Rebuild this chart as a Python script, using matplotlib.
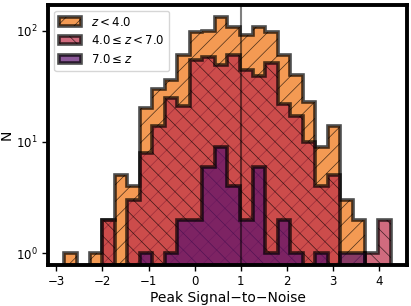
import numpy as np
import matplotlib
matplotlib.use('Agg')
import matplotlib.pyplot as plt

# histogram range / binning (peak S/N)
sn_min = -2.82
sn_max = 4.24
nbins = 26

# counts per bin
n_low = [1, 0, 1, 2, 5, 4, 20, 30, 36, 61, 98, 100, 134, 109, 92, 109, 98, 61, 40, 23, 9, 14, 3, 2, 0, 0]
n_mid = [0, 0, 0, 2, 0, 3, 8, 14, 25, 21, 55, 58, 49, 61, 44, 39, 51, 22, 17, 10, 4, 5, 0, 0, 1, 2]
n_high = [0, 0, 0, 0, 0, 0, 1, 0, 1, 2, 2, 6, 9, 4, 2, 6, 1, 2, 1, 0, 1, 0, 1, 1, 0, 0]

labels = [r'$z < 4.0$', r'$4.0 \leq z < 7.0$', r'$7.0 \leq z$']
hatches = ['//', '\\\\', None]
colors = ['#f0700a', '#bc2c48', '#5c126e']

edges = np.linspace(sn_min, sn_max, nbins + 1)
centers = 0.5 * (edges[1:] + edges[:-1])

plt.rcParams['hatch.linewidth'] = 0.5

fig = plt.figure(figsize=(4.11, 3.06), dpi=100)
ax = fig.add_axes([0.1175, 0.134, 0.872, 0.850])

for n, c, h, lab in zip([n_low, n_mid, n_high], colors, hatches, labels):
    ax.hist(centers, bins=edges, weights=n, histtype='stepfilled', log=True,
            color=c, ec='k', lw=2.6, alpha=0.7, hatch=h, label=lab)

ax.axvline(1.0, color='k', alpha=0.5, lw=1.5)

ax.set_ylim(10**-0.106, 10**2.232)
ax.set_xlim(-3.17, 4.59)
ax.set_xticks(range(-3, 5))
ax.minorticks_off()
for s in ax.spines.values():
    s.set_linewidth(2.8)
ax.tick_params(labelsize=8.5, length=4, width=1)
ax.set_xlabel('Peak Signal\u2212to\u2212Noise', fontsize=10, labelpad=2)
ax.set_ylabel('N', fontsize=10, labelpad=2)
ax.legend(loc='upper left', fontsize=8.5, handlelength=1.9)

fig.savefig('out.png', dpi=100)
